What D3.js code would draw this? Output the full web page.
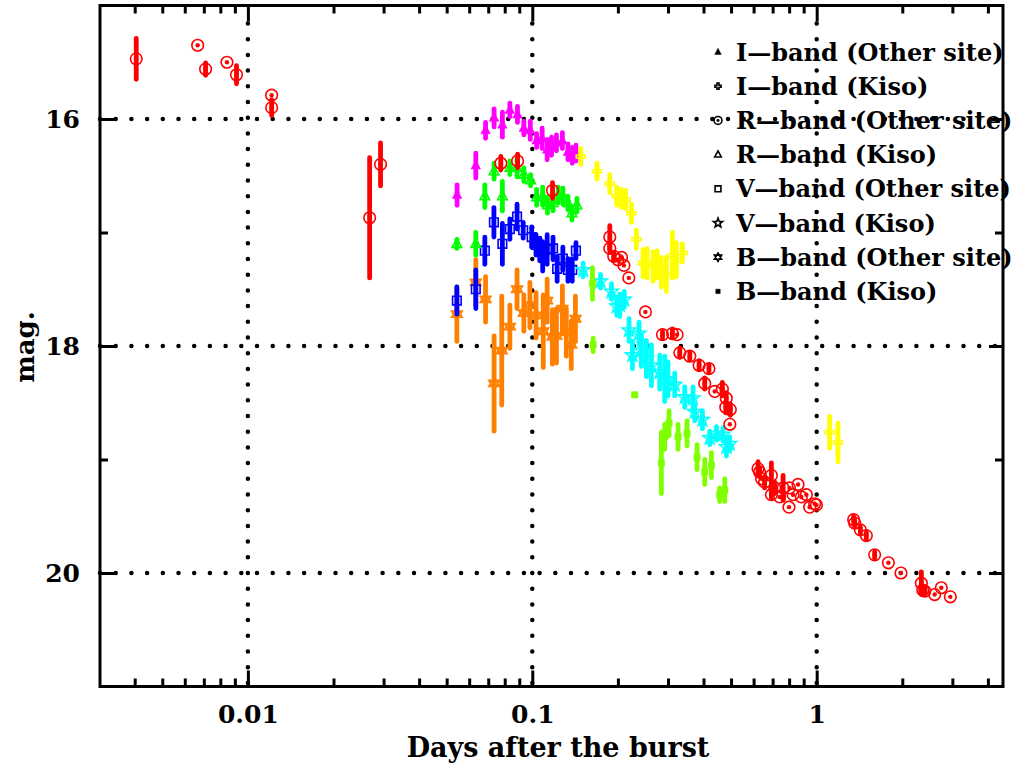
<!DOCTYPE html>
<html>
<head>
<meta charset="utf-8">
<script src="https://cdn.jsdelivr.net/npm/d3@7"></script>
<style>
  body { margin: 0; background: #fff; }
  text { font-family: "DejaVu Serif", serif; font-weight: bold; }
</style>
</head>
<body>
<div id="chart"></div>
<script>
// Light curve data: [days after burst, magnitude, error]
var rOther = [
  [0.00405, 15.47, 0.18], [0.00666, 15.35, 0], [0.00710, 15.56, 0.055], [0.00844, 15.50, 0],
  [0.00912, 15.61, 0.08], [0.01212, 15.79, 0], [0.01212, 15.90, 0.07], [0.0268, 16.87, 0.53],
  [0.02927, 16.40, 0.19], [0.0775, 16.39, 0.06], [0.0888, 16.37, 0.06], [0.1178, 16.63, 0.07],
  [0.1873, 17.04, 0.1], [0.1873, 17.14, 0.03], [0.1934, 17.21, 0.03], [0.1999, 17.24, 0],
  [0.206, 17.22, 0], [0.210, 17.29, 0], [0.2185, 17.40, 0], [0.250, 17.70, 0],
  [0.287, 17.90, 0.03], [0.311, 17.89, 0.04], [0.323, 17.90, 0], [0.330, 18.06, 0.04],
  [0.358, 18.09, 0.03], [0.386, 18.17, 0.04], [0.418, 18.20, 0.03], [0.404, 18.33, 0.05],
  [0.438, 18.40, 0], [0.466, 18.38, 0.06], [0.481, 18.46, 0.05], [0.479, 18.54, 0.05],
  [0.497, 18.56, 0.05], [0.495, 18.69, 0], [0.622, 19.08, 0.06], [0.630, 19.11, 0.04],
  [0.640, 19.17, 0], [0.656, 19.20, 0.05], [0.693, 19.14, 0.11], [0.693, 19.31, 0.03],
  [0.712, 19.25, 0.05], [0.741, 19.33, 0], [0.762, 19.25, 0.11], [0.799, 19.42, 0],
  [0.802, 19.25, 0], [0.826, 19.31, 0], [0.860, 19.22, 0], [0.883, 19.33, 0],
  [0.920, 19.31, 0], [0.945, 19.42, 0], [0.984, 19.39, 0], [0.998, 19.40, 0],
  [1.349, 19.53, 0.03], [1.36, 19.56, 0.03], [1.424, 19.62, 0.03], [1.495, 19.67, 0.03],
  [1.599, 19.84, 0.03], [1.787, 19.91, 0], [1.979, 20.00, 0], [2.334, 20.09, 0.1],
  [2.36, 20.15, 0], [2.40, 20.16, 0.03], [2.599, 20.19, 0], [2.743, 20.13, 0], [2.951, 20.21, 0]
];
var iOther = [
  [0.0544, 16.67, 0.09], [0.0633, 16.41, 0.11], [0.0685, 16.10, 0.07], [0.0734, 15.99, 0.08],
  [0.0785, 16.05, 0.11], [0.0834, 15.92, 0.06], [0.0887, 15.96, 0.07], [0.0934, 16.08, 0.06],
  [0.0984, 16.10, 0.08], [0.1036, 16.19, 0.06], [0.1083, 16.17, 0.09], [0.1128, 16.27, 0.09],
  [0.1168, 16.24, 0.08], [0.1216, 16.21, 0.07], [0.1276, 16.19, 0.07], [0.1335, 16.29, 0.07],
  [0.1382, 16.32, 0.07], [0.1424, 16.30, 0.07]
];
var iKiso = [
  [0.1481, 16.33, 0.07], [0.1689, 16.46, 0.07], [0.1873, 16.57, 0.08], [0.1982, 16.68, 0.08],
  [0.206, 16.70, 0.08], [0.2129, 16.71, 0.08], [0.2231, 16.83, 0.08], [0.2322, 17.06, 0.08],
  [0.2452, 17.27, 0.12], [0.2531, 17.27, 0.13], [0.2659, 17.30, 0.13], [0.2746, 17.28, 0.12],
  [0.2844, 17.35, 0.13], [0.2962, 17.37, 0.15], [0.3110, 17.20, 0.2], [0.3212, 17.24, 0.15],
  [0.3372, 17.18, 0.08], [1.111, 18.76, 0.14], [1.188, 18.85, 0.17]
];
var rKiso = [
  [0.0543, 17.10, 0.04], [0.0633, 17.10, 0.1], [0.0681, 16.68, 0.1], [0.0734, 16.46, 0.07],
  [0.0785, 16.68, 0.13], [0.0834, 16.43, 0.06], [0.0884, 16.43, 0.08], [0.0934, 16.49, 0.06],
  [0.0987, 16.54, 0.05], [0.1036, 16.69, 0.07], [0.1088, 16.68, 0.08], [0.1131, 16.76, 0.07],
  [0.1183, 16.74, 0.07], [0.1233, 16.67, 0.07], [0.1281, 16.68, 0.07], [0.1335, 16.74, 0.06],
  [0.1379, 16.83, 0.06], [0.1436, 16.76, 0.06]
];
var vOther = [
  [0.0543, 17.60, 0.12], [0.0633, 17.50, 0.17], [0.0681, 17.16, 0.12], [0.0733, 16.91, 0.13],
  [0.0785, 17.10, 0.18], [0.0834, 16.97, 0.09], [0.0884, 16.86, 0.11], [0.0929, 16.98, 0.07],
  [0.0995, 17.04, 0.09], [0.1031, 17.11, 0.09], [0.1064, 17.15, 0.1], [0.1088, 17.21, 0.13],
  [0.1128, 17.15, 0.13], [0.1183, 17.14, 0.1], [0.1223, 17.32, 0.11], [0.1281, 17.23, 0.1],
  [0.1335, 17.33, 0.1], [0.1382, 17.33, 0.1], [0.1424, 17.16, 0.07]
];
var vKiso = [
  [0.1509, 17.33, 0.06], [0.1738, 17.43, 0.06], [0.1899, 17.52, 0.07], [0.1982, 17.65, 0.08],
  [0.2030, 17.64, 0.1], [0.2106, 17.59, 0.07], [0.2189, 17.86, 0.1], [0.2373, 17.89, 0.1],
  [0.2250, 18.08, 0.12], [0.2419, 18.04, 0.14], [0.2519, 18.11, 0.16], [0.2624, 18.17, 0.18],
  [0.2806, 18.23, 0.15], [0.2922, 18.29, 0.2], [0.300, 18.29, 0.15], [0.3168, 18.34, 0.1],
  [0.3436, 18.45, 0.09], [0.3673, 18.46, 0.1], [0.3724, 18.58, 0.08], [0.3964, 18.65, 0.08],
  [0.4206, 18.81, 0.06], [0.4441, 18.77, 0.06], [0.4685, 18.78, 0.06], [0.4816, 18.89, 0.08],
  [0.4945, 18.86, 0.06]
];
var bOther = [
  [0.0543, 17.72, 0.24], [0.0633, 17.44, 0.2], [0.0685, 17.59, 0.2], [0.0734, 18.33, 0.42],
  [0.0781, 18.04, 0.48], [0.0834, 17.83, 0.19], [0.0884, 17.50, 0.17], [0.0934, 17.71, 0.16],
  [0.0981, 17.64, 0.2], [0.1031, 17.73, 0.2], [0.1093, 17.87, 0.32], [0.1128, 17.60, 0.19],
  [0.1177, 17.92, 0.24], [0.1216, 17.91, 0.24], [0.1276, 17.67, 0.2], [0.1317, 17.88, 0.21],
  [0.1371, 17.99, 0.21], [0.1418, 17.76, 0.2]
];
var bKiso = [
  [0.1628, 17.45, 0.14], [0.1637, 17.99, 0.06], [0.2292, 18.43, 0], [0.2844, 19.03, 0.27],
  [0.2922, 18.80, 0.11], [0.3026, 18.68, 0.11], [0.3256, 18.80, 0.11], [0.350, 18.77, 0.11],
  [0.3797, 18.98, 0.11], [0.4040, 19.11, 0.11], [0.4265, 19.05, 0.11], [0.456, 19.31, 0.06],
  [0.4750, 19.27, 0.1]
];

var legendLabels = ["I\u2014band (Other site)", "I\u2014band (Kiso)", "R\u2014band (Other site)", "R\u2014band (Kiso)",
                    "V\u2014band (Other site)", "V\u2014band (Kiso)", "B\u2014band (Other site)", "B\u2014band (Kiso)"];
var majorX = [0.01, 0.1, 1];
var majorY = [16, 18, 20];
var minorY = [17, 19];

// Chart size
var W = 1016, H = 766;
var pLeft = 100, pRight = 1003, pTop = 5.5, pBottom = 686.5;

var x = d3.scaleLog().domain([0.00302, 4.52]).range([pLeft, pRight]);
var y = d3.scaleLinear().domain([15, 21]).range([pTop, pBottom]);

var svg = d3.select("#chart").append("svg")
    .attr("width", W).attr("height", H);

// minor log ticks
var minorX = [];
[0.001, 0.01, 0.1, 1].forEach(function (dec) {
  for (var k = 2; k <= 9; k++) {
    var v = dec * k;
    if (v > x.domain()[0] && v < x.domain()[1]) minorX.push(v);
  }
});

// dotted grid
var grid = svg.append("g");
grid.selectAll(".gx").data(majorX).enter().append("line")
    .attr("x1", function (d) { return x(d); }).attr("x2", function (d) { return x(d); })
    .attr("y1", pTop + 18).attr("y2", pBottom)
    .attr("stroke", "#000").attr("stroke-width", 4.5)
    .attr("stroke-linecap", "round").attr("stroke-dasharray", "0,15.7");
grid.selectAll(".gy").data(majorY).enter().append("line")
    .attr("y1", function (d) { return y(d); }).attr("y2", function (d) { return y(d); })
    .attr("x1", pLeft).attr("x2", pRight)
    .attr("stroke", "#000").attr("stroke-width", 4.5)
    .attr("stroke-linecap", "round").attr("stroke-dasharray", "0,15.7");

// axes
function styleAxis(g) {
  g.select(".domain").remove();
  g.selectAll(".tick line").attr("stroke", "#000").attr("stroke-width", 3);
  g.selectAll(".tick text").attr("fill", "#000").style("font-size", "25px")
    .style("font-family", "'DejaVu Serif', serif").style("font-weight", "bold");
}
var fmt = function (d) { return d >= 1 ? d3.format("d")(d) : String(d); };
svg.append("g").attr("transform", "translate(0," + pBottom + ")")
    .call(d3.axisBottom(x).tickValues(majorX).tickSize(-16).tickPadding(19).tickFormat(fmt)).call(styleAxis);
svg.append("g").attr("transform", "translate(0," + pBottom + ")")
    .call(d3.axisBottom(x).tickValues(minorX).tickSize(-8).tickFormat("")).call(styleAxis);
svg.append("g").attr("transform", "translate(0," + pTop + ")")
    .call(d3.axisTop(x).tickValues(majorX).tickSize(-16).tickFormat("")).call(styleAxis);
svg.append("g").attr("transform", "translate(0," + pTop + ")")
    .call(d3.axisTop(x).tickValues(minorX).tickSize(-8).tickFormat("")).call(styleAxis);
svg.append("g").attr("transform", "translate(" + pLeft + ",0)")
    .call(d3.axisLeft(y).tickValues(majorY).tickSize(-14).tickPadding(20).tickFormat(d3.format("d"))).call(styleAxis);
svg.append("g").attr("transform", "translate(" + pLeft + ",0)")
    .call(d3.axisLeft(y).tickValues(minorY).tickSize(-8).tickFormat("")).call(styleAxis);
svg.append("g").attr("transform", "translate(" + pRight + ",0)")
    .call(d3.axisRight(y).tickValues(majorY).tickSize(-14).tickFormat("")).call(styleAxis);
svg.append("g").attr("transform", "translate(" + pRight + ",0)")
    .call(d3.axisRight(y).tickValues(minorY).tickSize(-8).tickFormat("")).call(styleAxis);

// frame
svg.append("rect").attr("x", pLeft).attr("y", pTop)
    .attr("width", pRight - pLeft).attr("height", pBottom - pTop)
    .attr("fill", "none").attr("stroke", "#000").attr("stroke-width", 3);

// marker shapes (s = scale)
function triPath(s) { return "M0," + (-5.5 * s) + "L" + (4.8 * s) + "," + (3.5 * s) + "L" + (-4.8 * s) + "," + (3.5 * s) + "Z"; }
function crossPath(s) {
  var a = 1.5 * s, b = 4.5 * s;
  return "M" + (-a) + "," + (-b) + "H" + a + "V" + (-a) + "H" + b + "V" + a + "H" + a + "V" + b +
         "H" + (-a) + "V" + a + "H" + (-b) + "V" + (-a) + "H" + (-a) + "Z";
}
function squarePath(s) { var h = 4.3 * s; return "M" + (-h) + "," + (-h) + "H" + h + "V" + h + "H" + (-h) + "Z"; }
function starPath(s) {
  var p = [];
  for (var i = 0; i < 10; i++) {
    var r = (i % 2 ? 3 : 7.2) * s, a = -Math.PI / 2 + i * Math.PI / 5;
    p.push([r * Math.cos(a), r * Math.sin(a)]);
  }
  return "M" + p.join("L") + "Z";
}
function davidPath(s) {
  var r = 6.2 * s, out = "";
  [-Math.PI / 2, Math.PI / 2].forEach(function (o) {
    var p = [0, 1, 2].map(function (i) { var a = o + i * 2 * Math.PI / 3; return [r * Math.cos(a), r * Math.sin(a)]; });
    out += "M" + p.join("L") + "Z";
  });
  return out;
}

function drawMarker(g, kind, color, s) {
  if (kind === "circdot") {
    g.append("circle").attr("r", 5.8 * s).attr("fill", "none").attr("stroke", color).attr("stroke-width", 1.6);
    g.append("circle").attr("r", 2.2 * s).attr("fill", color);
    return;
  }
  var d, filled = false;
  if (kind === "tri") { d = triPath(s); filled = true; }
  if (kind === "otri") d = triPath(s);
  if (kind === "cross") d = crossPath(s);
  if (kind === "square") d = squarePath(s);
  if (kind === "fsquare") { d = squarePath(s * 0.75); filled = true; }
  if (kind === "star") d = starPath(s);
  if (kind === "david") d = davidPath(s);
  g.append("path").attr("d", d)
    .attr("fill", filled ? color : "none")
    .attr("stroke", color).attr("stroke-width", filled ? 0.5 : 1.6)
    .attr("stroke-linejoin", "miter");
}

var series = [
  { data: bOther, kind: "david", color: "#ff8000" },
  { data: vOther, kind: "square", color: "#0000ff" },
  { data: rKiso, kind: "otri", color: "#00ff00" },
  { data: iOther, kind: "tri", color: "#ff00ff" },
  { data: iKiso, kind: "cross", color: "#ffff00" },
  { data: vKiso, kind: "star", color: "#00ffff" },
  { data: bKiso, kind: "fsquare", color: "#80ff00" },
  { data: rOther, kind: "circdot", color: "#ff0000" }
];

var plot = svg.append("g");
series.forEach(function (s) {
  var g = plot.append("g");
  g.selectAll("line").data(s.data.filter(function (d) { return d[2] > 0; })).enter().append("line")
      .attr("x1", function (d) { return x(d[0]); }).attr("x2", function (d) { return x(d[0]); })
      .attr("y1", function (d) { return y(d[1] - d[2]); }).attr("y2", function (d) { return y(d[1] + d[2]); })
      .attr("stroke", s.color).attr("stroke-width", 4.8).attr("stroke-linecap", "round");
  g.selectAll("g.pt").data(s.data).enter().append("g").attr("class", "pt")
      .attr("transform", function (d) { return "translate(" + x(d[0]) + "," + y(d[1]) + ")"; })
      .each(function () { drawMarker(d3.select(this), s.kind, s.color, 1); });
});

// legend
var legendKinds = ["tri", "cross", "circdot", "otri", "square", "star", "david", "fsquare"];
var leg = svg.append("g");
legendLabels.forEach(function (lab, i) {
  var ly = 52 + i * 34.2;
  var m = leg.append("g").attr("transform", "translate(718," + ly + ")");
  drawMarker(m, legendKinds[i], "#000", 0.68);
  leg.append("text").attr("x", 736).attr("y", ly + 8.5)
      .style("font-size", "24px").attr("fill", "#000").text(lab);
});

// axis titles
svg.append("text").attr("x", 558).attr("y", 757).attr("text-anchor", "middle")
    .style("font-size", "27px").text("Days after the burst");
svg.append("text").attr("transform", "translate(34,347) rotate(-90)").attr("text-anchor", "middle")
    .style("font-size", "26px").text("mag.");
</script>
</body>
</html>
